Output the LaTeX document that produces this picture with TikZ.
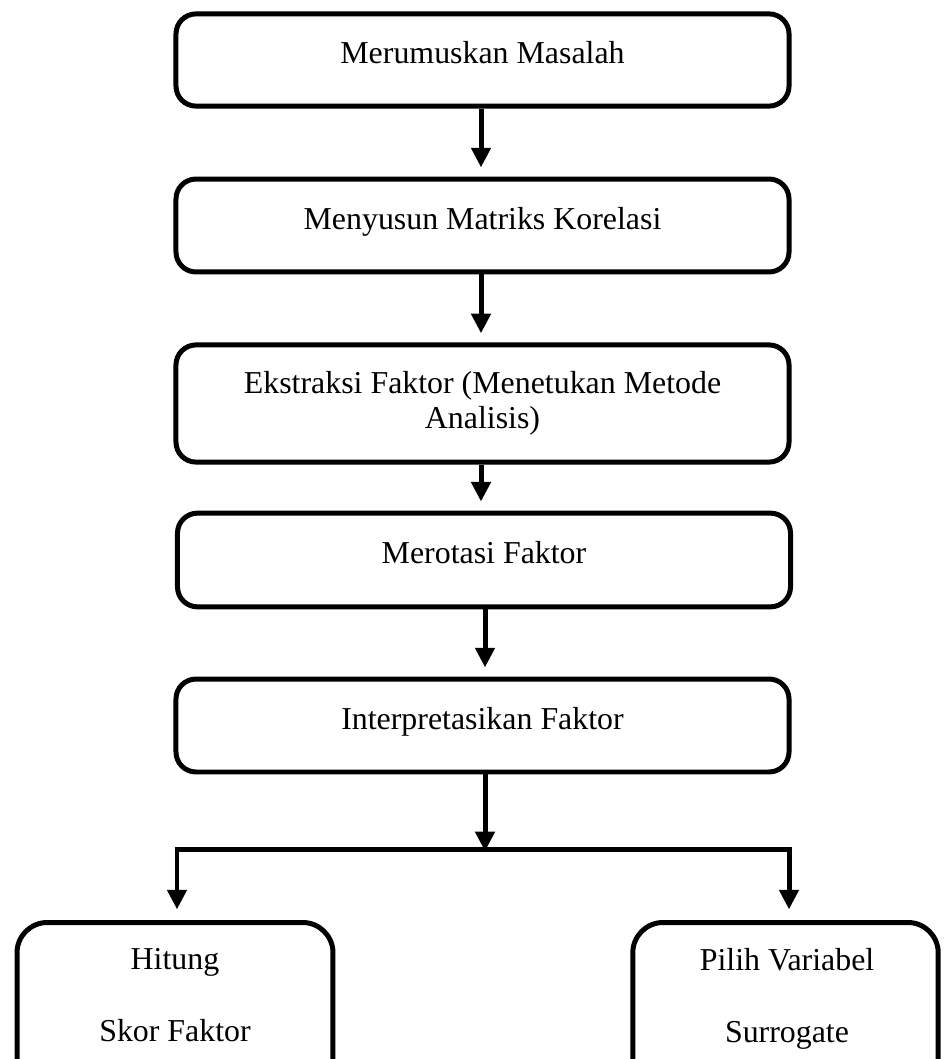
\documentclass[tikz,border=0pt]{standalone}
\usepackage{fontspec}
\setmainfont{Liberation Serif}
\usetikzlibrary{arrows.meta,positioning,calc}

\begin{document}
\begin{tikzpicture}[
    x=0.1323mm, y=-0.1323mm,
    stepbox/.style={rectangle, rounded corners=2.65mm, draw=black, line width=0.66mm,
                    minimum width=81.1mm, align=center, inner sep=0pt,
                    font=\fontsize{12}{13.4}\selectfont},
    raised/.style={text height=8.5pt, text depth=5.5pt},
    endbox/.style={stepbox, rounded corners=4mm, minimum height=30mm, anchor=north},
    boxtext/.style={align=center, inner sep=0pt, anchor=north,
                    font=\fontsize{12}{13.4}\selectfont},
    arrow/.style={-{Triangle[width=2.5mm,length=2.6mm]}, line width=0.66mm, shorten >=1.2mm},
    split/.style={{Triangle[width=2.5mm,length=2.6mm]}-{Triangle[width=2.5mm,length=2.6mm]},
                  line width=0.66mm, shorten >=1.4mm, shorten <=1.4mm}
]
    \useasboundingbox (0,0) rectangle (944,1059);

    \node[stepbox, raised, minimum height=12.2mm] (masalah) at (482.5,60) {Merumuskan Masalah};
    \node[stepbox, raised, minimum height=12.3mm] (matriks) at (482.5,225.5) {Menyusun Matriks Korelasi};
    \node[stepbox, minimum height=15.5mm] (ekstraksi) at (482.5,403.5)
        {Ekstraksi Faktor (Menetukan Metode\\Analisis)};
    \node[stepbox, raised, minimum height=12.4mm] (rotasi) at (484,560) {Merotasi Faktor};
    \node[stepbox, raised, minimum height=12.3mm] (interpretasi) at (482.5,725.5) {Interpretasikan Faktor};

    % cabang bawah
    \node[endbox, minimum width=41.8mm] (skor) at (175,920) {};
    \node[endbox, minimum width=40.4mm] (surrogate) at (785.5,920) {};
    \node[boxtext] (skortext) at (175,948) {Hitung\\[13.6pt]Skor Faktor};
    \node[boxtext] (surrogatetext) at (787,948) {Pilih Variabel\\[13.6pt]Surrogate};

    \coordinate (ax) at (481,0);
    \coordinate (bx) at (485,0);
    \coordinate (split) at (485,849);
    \coordinate (splitL) at (177,849);
    \coordinate (splitR) at (789,849);

    \draw[arrow] (masalah.south -| ax) -- (matriks.north -| ax);
    \draw[arrow] (matriks.south -| ax) -- (ekstraksi.north -| ax);
    \draw[arrow] (ekstraksi.south -| ax) -- (rotasi.north -| ax);
    \draw[arrow] (rotasi.south -| bx) -- (interpretasi.north -| bx);
    \draw[arrow, shorten >=-0.3mm] (interpretasi.south -| bx) -- (split);
    \draw[split] (skor.north -| splitL) -- (splitL) -- (splitR) -- (surrogate.north -| splitR);
\end{tikzpicture}
\end{document}
